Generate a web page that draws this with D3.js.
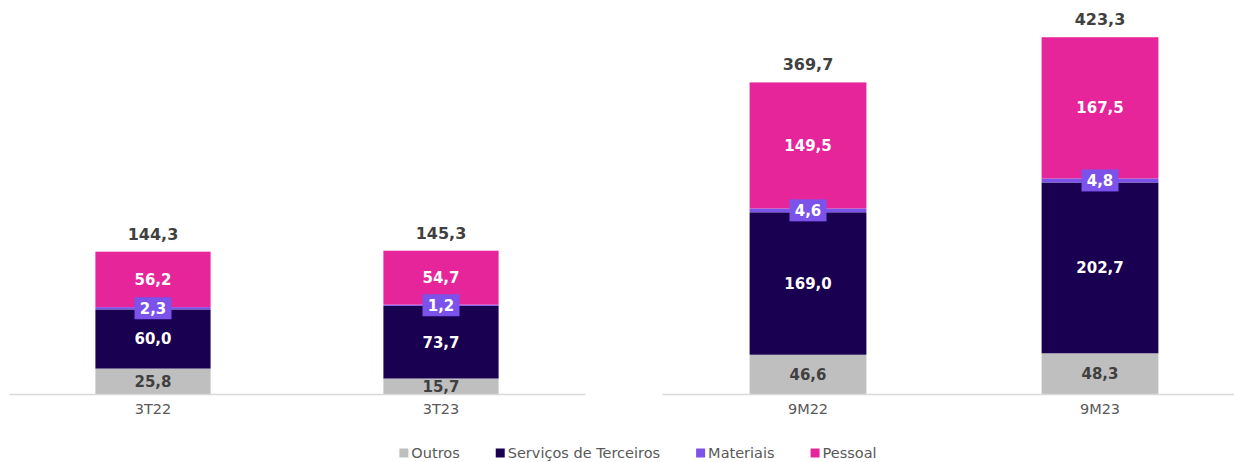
<!DOCTYPE html>
<html>
<head>
<meta charset="utf-8">
<script src="https://cdn.jsdelivr.net/npm/d3@7"></script>
<style>
  html, body { margin: 0; padding: 0; background: #fff; }
  svg { display: block; font-family: "DejaVu Sans", Verdana, sans-serif; }
</style>
</head>
<body>
<div id="chart"></div>
<script>
const categories = ['3T22', '3T23', '9M22', '9M23'];
const outros = [25.8, 15.7, 46.6, 48.3];
const servicos = [60.0, 73.7, 169.0, 202.7];
const materiais = [2.3, 1.2, 4.6, 4.8];
const pessoal = [56.2, 54.7, 149.5, 167.5];
const totals = [144.3, 145.3, 369.7, 423.3];
const seriesNames = ['Outros', 'Serviços de Terceiros', 'Materiais', 'Pessoal'];

(() => {
  const COLORS = {
    outros: '#bfbfbf',
    servicos: '#1a0050',
    materiais: '#7b52ea',
    pessoal: '#e6259a',
    axis: '#d9d9d9',
    label: '#404040',
    text: '#595959',
  };
  const KEYS = ['outros', 'servicos', 'materiais', 'pessoal'];
  const width = 1234;
  const height = 462;
  const baseY = 394;
  const topY = 37;
  const fmt = (v) => d3.format('.1f')(v).replace('.', ',');

  const rows = categories.map((cat, i) => ({
    cat,
    outros: outros[i],
    servicos: servicos[i],
    materiais: materiais[i],
    pessoal: pessoal[i],
    total: totals[i],
  }));

  const svg = d3.select('#chart').append('svg').attr('width', width).attr('height', height);

  // two panels, each with its own scale
  const panels = [
    { cats: categories.slice(0, 2), range: [9, 585], max: 362 },
    { cats: categories.slice(2, 4), range: [662, 1246], max: 423.6 },
  ];

  panels.forEach((panel) => {
    const data = rows.filter((r) => panel.cats.includes(r.cat));
    const x = d3.scaleBand().domain(panel.cats).range(panel.range).paddingInner(0.6).paddingOuter(0.3);
    const y = d3.scaleLinear().domain([0, panel.max]).range([baseY, topY]);
    const stacked = d3.stack().keys(KEYS)(data);

    const g = svg.append('g');

    stacked.forEach((layer) => {
      g.selectAll(null)
        .data(layer)
        .enter()
        .append('rect')
        .attr('x', (d) => x(d.data.cat))
        .attr('y', (d) => y(d[1]))
        .attr('width', x.bandwidth())
        .attr('height', (d) => y(d[0]) - y(d[1]))
        .attr('fill', COLORS[layer.key]);
    });

    // baseline + category labels
    const axis = g.append('g')
      .attr('transform', `translate(0,${baseY})`)
      .call(d3.axisBottom(x).tickSize(0).tickSizeOuter(0).tickPadding(10));
    axis.select('.domain').attr('stroke', COLORS.axis).attr('stroke-width', 1.5);
    axis.selectAll('text')
      .attr('fill', COLORS.text)
      .style('font-family', '"DejaVu Sans", Verdana, sans-serif')
      .style('font-size', '14.5px');

    // segment labels
    stacked.forEach((layer) => {
      if (layer.key === 'materiais') {
        const lg = g.selectAll(null).data(layer).enter().append('g')
          .attr('transform', (d) => `translate(${x(d.data.cat) + x.bandwidth() / 2},${(y(d[0]) + y(d[1])) / 2})`);
        lg.append('rect')
          .attr('x', -18.5).attr('y', -11).attr('width', 37).attr('height', 22)
          .attr('fill', COLORS.materiais);
        lg.append('text')
          .attr('text-anchor', 'middle').attr('dy', '0.36em')
          .attr('fill', '#fff').attr('font-weight', 'bold').attr('font-size', 15)
          .text((d) => fmt(d.data.materiais));
        return;
      }
      g.selectAll(null)
        .data(layer)
        .enter()
        .append('text')
        .attr('x', (d) => x(d.data.cat) + x.bandwidth() / 2)
        .attr('y', (d) => (y(d[0]) + y(d[1])) / 2)
        .attr('dy', '0.36em')
        .attr('text-anchor', 'middle')
        .attr('font-weight', 'bold')
        .attr('font-size', 15)
        .attr('fill', layer.key === 'outros' ? COLORS.label : '#fff')
        .text((d) => fmt(d.data[layer.key]));
    });

    // totals
    g.selectAll(null)
      .data(data)
      .enter()
      .append('text')
      .attr('x', (d) => x(d.cat) + x.bandwidth() / 2)
      .attr('y', (d) => y(d.total) - 12)
      .attr('text-anchor', 'middle')
      .attr('font-weight', 'bold')
      .attr('font-size', 16)
      .attr('fill', COLORS.label)
      .text((d) => fmt(d.total));
  });

  // legend
  const legend = svg.append('g').attr('transform', 'translate(0,453)');
  const items = legend.selectAll(null)
    .data(seriesNames.map((name, i) => ({ name, key: KEYS[i] })))
    .enter()
    .append('g');
  items.append('rect')
    .attr('y', -4.5).attr('width', 9).attr('height', 9)
    .attr('fill', (d) => COLORS[d.key]);
  items.append('text')
    .attr('x', 12).attr('dy', '0.36em')
    .attr('font-size', 14.5).attr('fill', COLORS.text)
    .text((d) => d.name);
  const widths = [];
  items.each(function () { widths.push(this.getBBox().width); });
  const gap = 36;
  const total = d3.sum(widths) + gap * (widths.length - 1);
  let cx = 638 - total / 2;
  items.attr('transform', (d, i) => {
    const t = `translate(${cx},0)`;
    cx += widths[i] + gap;
    return t;
  });
})();
</script>
</body>
</html>
